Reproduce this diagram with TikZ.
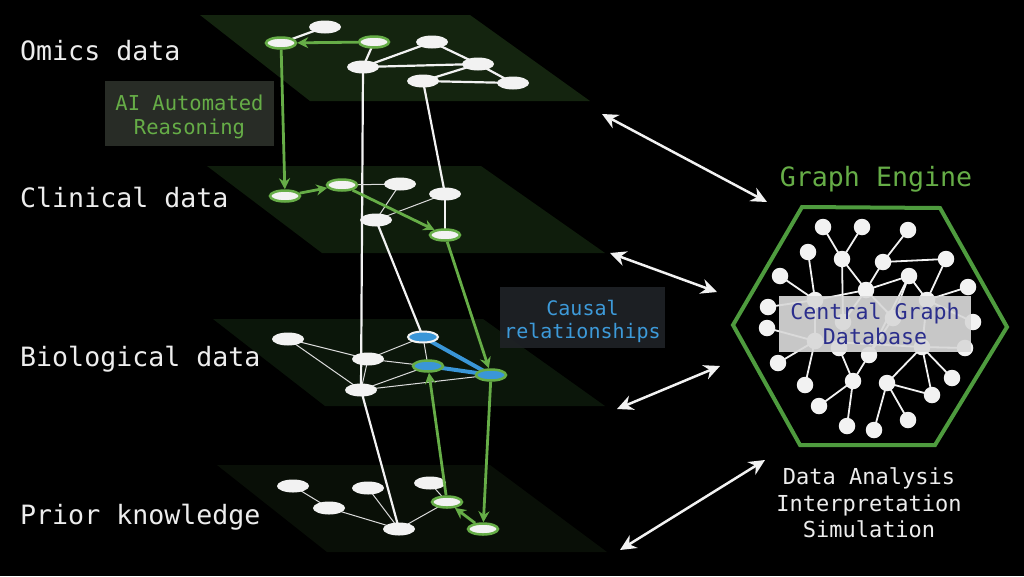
\documentclass[tikz,border=0pt]{standalone}
\usepackage{fontspec}
\setmonofont{DejaVu Sans Mono}
\usetikzlibrary{arrows.meta,shapes.geometric}
\pgfdeclarelayer{planes}
\pgfdeclarelayer{edges}
\pgfsetlayers{planes,edges,main}
\definecolor{pla}{HTML}{14240F}
\definecolor{plb}{HTML}{0F1D0C}
\definecolor{plc}{HTML}{0B160A}
\definecolor{pld}{HTML}{090F07}
\definecolor{grn}{HTML}{66AD47}
\definecolor{hexg}{HTML}{4E9B3E}
\definecolor{blu}{HTML}{3A96D8}
\definecolor{blutxt}{HTML}{3D9AD9}
\definecolor{aibox}{HTML}{282C26}
\definecolor{cbox}{HTML}{1F2226}
\definecolor{dbbox}{HTML}{D9D9D9}
\definecolor{dbtxt}{HTML}{2B2E8C}
\definecolor{wh}{HTML}{F2F2F2}
\definecolor{lbl}{HTML}{EDEDED}
\begin{document}
\begin{tikzpicture}[x=1pt,y=-1pt,
  nd/.style={ellipse, fill=wh, minimum width=32pt, minimum height=13pt, inner sep=0pt},
  gnd/.style={nd, draw=grn, line width=2.5pt, minimum width=30pt, minimum height=11pt},
  bnd/.style={nd, fill=blu, draw=wh, line width=2pt, minimum width=30pt, minimum height=11pt},
  gbnd/.style={nd, fill=blu, draw=grn, line width=2.5pt, minimum width=30pt, minimum height=11pt},
  thinl/.style={draw=wh!80!gray, line width=1pt},
  thickl/.style={draw=wh, line width=2.2pt},
  garr/.style={draw=grn, line width=2.8pt, -{Stealth[length=11pt,width=11pt]}},
  bline/.style={draw=blu, line width=4pt},
  darr/.style={draw=wh, line width=2.5pt, {Stealth[length=16pt,width=15pt]}-{Stealth[length=16pt,width=15pt]}},
  gn/.style={circle, fill=wh, minimum size=16.5pt, inner sep=0pt},
  ge/.style={draw=wh, line width=1.8pt},
  lab/.style={anchor=base west, inner sep=0pt, text=lbl, font=\ttfamily\fontsize{26.6}{30}\selectfont},
  boxtext/.style={align=center, inner sep=0pt}
]
\useasboundingbox (0,0) rectangle (1024,576);
\begin{pgfonlayer}{planes}
\fill[black] (0,0) rectangle (1024,576);
\fill[pla] (200,15) -- (470,15) -- (590,101) -- (310,101) -- cycle;
\fill[plb] (207,166) -- (481,166) -- (605,253) -- (322,253) -- cycle;
\fill[plc] (213,319) -- (483,319) -- (605,406) -- (325,406) -- cycle;
\fill[pld] (217,465) -- (490,465) -- (607,552) -- (327,552) -- cycle;
\end{pgfonlayer}

% labels
\node[lab] (lomics) at (20,60) {Omics data};
\node[lab] (lclin) at (20,207) {Clinical data};
\node[lab] (lbio) at (20,366) {Biological data};
\node[lab] (lprior) at (20,524) {Prior knowledge};

% plane 1 nodes
\node[nd] (a1) at (325,27) {};
\node[gnd] (g1) at (281,43) {};
\node[gnd] (g2) at (374,42) {};
\node[nd] (b1) at (432,42) {};
\node[nd] (c1) at (363,67) {};
\node[nd] (d1) at (478,64) {};
\node[nd] (e1) at (423,81) {};
\node[nd] (f1) at (513,83) {};
% plane 2 nodes
\node[gnd] (p2a) at (285,196) {};
\node[gnd] (p2b) at (342,185) {};
\node[nd] (p2c) at (400,184) {};
\node[nd] (p2d) at (445,194) {};
\node[nd] (p2e) at (376,220) {};
\node[gnd] (p2f) at (445,235) {};
% plane 3 nodes
\node[nd] (q1) at (288,339) {};
\node[bnd] (q2) at (423,337) {};
\node[nd] (q3) at (368,359) {};
\node[gbnd] (q4) at (428,366) {};
\node[gbnd] (q5) at (491,375) {};
\node[nd] (q6) at (361,390) {};
% plane 4 nodes
\node[nd] (r1) at (293,486) {};
\node[nd] (r2) at (368,488) {};
\node[nd] (r3) at (430,483) {};
\node[nd] (r4) at (329,508) {};
\node[gnd] (r5) at (447,502) {};
\node[nd] (r6) at (399,529) {};
\node[gnd] (r7) at (483,529) {};

% edges beneath nodes
\begin{pgfonlayer}{edges}
\path[thickl] (a1.center) -- (g1.center);
\path[thickl] (g2.center) -- (c1.center);
\path[thickl] (c1.center) -- (b1.center);
\path[thickl] (c1.center) -- (d1.center);
\path[thickl] (b1.center) -- (d1.center);
\path[thickl] (d1.center) -- (e1.center);
\path[thickl] (d1.center) -- (f1.center);
\path[thickl] (e1.center) -- (f1.center);
\path[thickl] (c1.center) -- (q6.center);
\path[thickl] (e1.center) -- (p2d.center);
\path[thickl] (p2d.center) -- (p2f.center);
\path[thickl] (p2e.center) -- (q2.center);
\path[thickl] (q6.center) -- (r6.center);
\path[thinl] (p2b.center) -- (p2c.center);
\path[thinl] (p2c.center) -- (p2e.center);
\path[thinl] (p2e.center) -- (p2d.center);
\path[thinl] (q1.center) -- (q3.center);
\path[thinl] (q1.center) -- (q6.center);
\path[thinl] (q3.center) -- (q2.center);
\path[thinl] (q3.center) -- (q4.center);
\path[thinl] (q2.center) -- (q4.center);
\path[thinl] (q3.center) -- (q6.center);
\path[thinl] (q6.center) -- (q4.center);
\path[thinl] (q6.center) -- (q5.center);
\path[thinl] (r1.center) -- (r4.center);
\path[thinl] (r4.center) -- (r6.center);
\path[thinl] (r2.center) -- (r6.center);
\path[thinl] (r3.center) -- (r5.center);
\path[thinl] (r6.center) -- (r5.center);
\path[bline] (q2.center) -- (q5.center);
\path[bline] (q4.center) -- (q5.center);
\end{pgfonlayer}

% green arrows
\draw[garr] (g2) -- (g1);
\draw[garr] (g1) -- (p2a);
\draw[garr] (p2a) -- (p2b);
\draw[garr] (p2b) -- (p2f);
\draw[garr] (p2f) -- (q5);
\draw[garr] (q5) -- (r7);
\draw[garr] (r5) -- (q4);
\draw[garr] (r7) -- (r5);

% AI box
\node[fill=aibox, minimum width=169pt, minimum height=65pt, inner sep=0pt] (aib) at (189.5,113.5) {};
\node[boxtext, text=grn, font=\ttfamily\fontsize{20.5}{24}\selectfont, yshift=-3pt] (aitxt) at (aib) {AI Automated\\Reasoning};

% Causal box
\node[fill=cbox, fill opacity=0.92, minimum width=165pt, minimum height=61pt, inner sep=0pt] (cb) at (582.5,317.5) {};
\node[boxtext, text=blutxt, font=\ttfamily\fontsize{20}{23}\selectfont, yshift=-3.5pt] (cbtxt) at (cb) {Causal\\relationships};

% Graph engine
\node[text=grn, font=\ttfamily\fontsize{26.6}{30}\selectfont, anchor=base, inner sep=0pt] (ge) at (876,186) {Graph Engine};

% hexagon
\coordinate (hx1) at (802,207);
\coordinate (hx2) at (940,208);
\coordinate (hx3) at (1007,327);
\coordinate (hx4) at (935,445);
\coordinate (hx5) at (800,445);
\coordinate (hx6) at (733,325);
\draw[hexg, line width=4pt, line join=miter] (hx1) -- (hx2) -- (hx3) -- (hx4) -- (hx5) -- (hx6) -- cycle;

% network nodes
\foreach \n/\x/\y in {h1/823/227, h2/862/227, h3/908/230, h4/808/252, h5/842/259, h6/883/262, h7/946/259,
  h8/780/276, h9/909/276, h10/866/290, h11/968/287, h12/815/300, h13/927/300, h14/768/307, h15/843/322,
  h16/893/318, h17/973/322, h18/767/328, h19/815/341, h20/839/348, h21/869/355, h22/922/347, h23/965/348,
  h24/778/363, h25/853/381, h26/887/383, h27/952/378, h28/805/385, h29/932/395, h30/819/406, h31/847/426,
  h32/874/430, h33/908/420}
  {\node[gn] (\n) at (\x,\y) {};}
\begin{pgfonlayer}{edges}
\foreach \a/\b in {h1/h5, h2/h5, h5/h10, h5/h15, h3/h6, h6/h7, h6/h10, h7/h13, h4/h12, h8/h12, h10/h9,
  h10/h12, h9/h13, h11/h13, h14/h12, h10/h16, h9/h16, h9/h21, h10/h15, h12/h19, h18/h19, h19/h24, h19/h28,
  h19/h22, h15/h20, h20/h25, h21/h25, h25/h30, h25/h31, h21/h16, h22/h26, h26/h29, h26/h32, h26/h33,
  h22/h27, h22/h29, h13/h22, h22/h23, h13/h17}
  {\draw[ge] (\a.center) -- (\b.center);}
\end{pgfonlayer}

% central DB box
\node[fill=dbbox, fill opacity=0.92, minimum width=192pt, minimum height=56pt, inner sep=0pt] (db) at (875,324) {};
\node[boxtext, text=dbtxt, font=\ttfamily\fontsize{21.6}{25}\selectfont] (dbtxt) at (db) {Central Graph\\Database};

% bottom text
\node[text=lbl, align=center, font=\ttfamily\fontsize{22}{26.5}\selectfont, inner sep=0pt] (dat) at (869,503) {Data Analysis\\Interpretation\\Simulation};

% double arrows
\coordinate (da1) at (602,114); \coordinate (db1) at (767,202);
\coordinate (da2) at (610,253); \coordinate (db2) at (717,292);
\coordinate (da3) at (617,409); \coordinate (db3) at (720,366);
\coordinate (da4) at (620,550); \coordinate (db4) at (765,460);
\draw[darr] (da1) -- (db1);
\draw[darr] (da2) -- (db2);
\draw[darr] (da3) -- (db3);
\draw[darr] (da4) -- (db4);
\end{tikzpicture}
\end{document}
